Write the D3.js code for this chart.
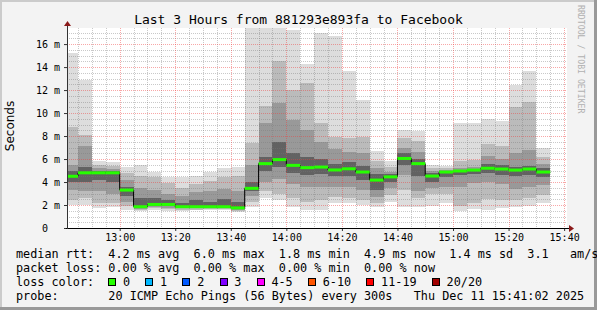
<!DOCTYPE html>
<html>
<head>
<meta charset="utf-8">
<script src="https://cdn.jsdelivr.net/npm/d3@7"></script>
<style>
  body { margin: 0; background: #fff; }
  svg text { font-family: "DejaVu Sans Mono", monospace; white-space: pre; }
</style>
</head>
<body>
<svg id="chart" width="597" height="310"></svg>
<script>
// column end times (5 min steps)
const stepEnds = ["12:45","12:50","12:55","13:00","13:05","13:10","13:15","13:20","13:25","13:30",
  "13:35","13:40","13:45","13:50","13:55","14:00","14:05","14:10","14:15","14:20",
  "14:25","14:30","14:35","14:40","14:45","14:50","14:55","15:00","15:05","15:10",
  "15:15","15:20","15:25","15:30","15:35"];

// median rtt (ms)
const medianMs = [4.5,4.8,4.8,4.8,3.3,1.85,2.05,2.05,1.85,1.85,1.85,1.85,1.75,3.45,5.6,5.95,5.45,5.25,5.3,5.05,
  5.15,4.87,4.17,4.45,6.05,5.6,4.52,4.87,4.96,5.04,5.2,5.13,5.04,5.13,4.87];

// smoke: slowest / fastest ping and inner pairs (ms)
const pingMax = [15.2,12.9,5.85,5.75,5.3,5.45,4.9,4.4,4.4,4.5,4.9,5.25,5.33,18,18,18,17.2,14.3,17.0,16.7,
  13.7,11.1,6.7,5.8,8.5,8.4,5.5,5.4,9.1,9.1,9.5,9.3,12.4,13.7,7.0];
const hi2 = [8.8,8.1,5.5,5.4,4.8,4.5,4.4,3.9,3.5,3.8,4.1,4.4,4.5,7.4,10.6,14.5,12.0,12.6,9.1,7.9,
  7.8,7.9,5.8,5.3,7.8,7.6,5.2,5.2,5.8,5.9,7.3,7.1,10.5,11.0,6.2];
const hi3 = [5.5,7.1,5.2,5.1,4.2,3.5,3.3,3.0,2.8,3.1,3.2,3.4,3.2,5.5,9.1,10.9,9.4,8.5,7.5,6.9,
  6.6,6.5,5.2,4.9,7.0,6.6,5.0,5.05,5.2,5.3,6.3,6.0,6.5,6.8,5.6];
const hi4 = [5.0,5.3,5.0,4.95,3.6,2.6,2.6,2.4,2.2,2.4,2.3,2.5,2.3,4.0,6.2,7.5,6.5,6.2,6.0,5.6,
  5.7,5.4,4.7,4.7,6.5,6.0,4.8,4.95,5.05,5.15,5.6,5.5,5.3,5.4,5.2];
const lo4 = [4.0,4.0,4.2,4.0,2.8,1.75,1.9,1.9,1.75,1.75,1.75,1.75,1.65,3.2,5.0,5.3,4.8,4.6,4.7,4.5,
  4.5,4.2,3.3,4.0,5.5,4.5,4.0,4.4,4.6,4.7,4.8,4.6,4.5,4.6,4.4];
const lo3 = [3.3,3.2,3.2,3.0,2.3,1.65,1.8,1.75,1.7,1.7,1.7,1.7,1.6,2.8,4.0,4.3,3.8,3.6,3.6,3.6,
  3.6,3.3,2.7,3.5,4.6,3.2,3.5,3.6,3.6,3.9,4.0,3.8,3.4,3.6,3.7];
const lo2 = [2.4,2.6,2.2,2.2,1.9,1.6,1.75,1.65,1.6,1.6,1.65,1.65,1.5,2.3,3.2,3.0,2.6,2.3,2.4,2.7,
  2.6,2.4,2.2,2.9,3.3,2.6,3.0,3.0,1.9,2.2,2.5,2.4,2.4,2.6,2.9];
const pingMin = [2.0,2.0,1.75,1.85,1.55,1.5,1.6,1.5,1.5,1.55,1.6,1.6,1.4,1.8,2.6,2.4,1.85,1.6,1.56,2.2,
  2.2,2.0,1.85,2.3,1.8,1.8,1.9,2.2,1.45,1.65,1.6,1.7,1.85,1.9,2.2];

const xLabels = ["13:00","13:20","13:40","14:00","14:20","14:40","15:00","15:20","15:40"];
const yLabels = [0,2,4,6,8,10,12,14,16];

const lossLabels = ["0","1","2","3","4-5","6-10","11-19","20/20"];
const lossColors = ["#26ff00","#00b8ff","#0059ff","#7e00ff","#ff00ff","#ff5500","#ff0000","#a10000"];

const statLines = [
  "median rtt:  4.2 ms avg  6.0 ms max  1.8 ms min  4.9 ms now  1.4 ms sd  3.1   am/s",
  "packet loss: 0.00 % avg  0.00 % max  0.00 % min  0.00 % now",
  "loss color:",
  "probe:       20 ICMP Echo Pings (56 Bytes) every 300s   Thu Dec 11 15:41:02 2025"
];

const PLOT = {left: 67, right: 567, top: 28, bottom: 228};
const CHAR_W = 7.1;

const svg = d3.select("#chart");
const parseT = d3.timeParse("%H:%M:%S");
const toTime = s => parseT(s.length === 5 ? s + ":00" : s);

const x = d3.scaleTime()
  .domain([toTime("12:41:02"), toTime("15:41:02")])
  .range([PLOT.left, PLOT.right]);
const y = d3.scaleLinear()
  .domain([0, 17.4])
  .range([PLOT.bottom, PLOT.top]);

// background + frame
svg.append("rect").attr("width", 597).attr("height", 310).attr("fill", "#f3f3f3");
svg.append("rect").attr("x", 0).attr("y", 0).attr("width", 597).attr("height", 2).attr("fill", "#cbcbcb");
svg.append("rect").attr("x", 0).attr("y", 0).attr("width", 2).attr("height", 310).attr("fill", "#cbcbcb");
svg.append("rect").attr("x", 0).attr("y", 307).attr("width", 597).attr("height", 3).attr("fill", "#999");
svg.append("rect").attr("x", 594).attr("y", 0).attr("width", 3).attr("height", 310).attr("fill", "#999");

// canvas
svg.append("rect")
  .attr("x", PLOT.left).attr("y", PLOT.top)
  .attr("width", PLOT.right - PLOT.left).attr("height", PLOT.bottom - PLOT.top)
  .attr("fill", "#fff");

svg.append("clipPath").attr("id", "plot-clip")
  .append("rect")
  .attr("x", PLOT.left).attr("y", PLOT.top)
  .attr("width", PLOT.right - PLOT.left).attr("height", PLOT.bottom - PLOT.top);

const steps = stepEnds.map((s, i) => {
  const end = toTime(s);
  return {start: d3.timeMinute.offset(end, -5), end: end, med: medianMs[i],
    layers: [[pingMin[i], pingMax[i]], [lo2[i], hi2[i]], [lo3[i], hi3[i]], [lo4[i], hi4[i]]]};
});

// smoke, outer pair first, darker pairs on top
const smokeColors = ["#dddddd", "#bbbbbb", "#999999", "#626262"];
const smoke = svg.append("g").attr("clip-path", "url(#plot-clip)");
smokeColors.forEach((col, li) => {
  smoke.append("g").selectAll("rect")
    .data(steps)
    .join("rect")
    .attr("x", d => x(d.start))
    .attr("width", d => x(d.end) - x(d.start))
    .attr("y", d => y(d.layers[li][1]))
    .attr("height", d => y(d.layers[li][0]) - y(d.layers[li][1]))
    .attr("fill", col)
    .attr("shape-rendering", "crispEdges");
});

// grid (drawn on top like rrdtool)
const grid = svg.append("g");
const minorT = x.ticks(d3.timeMinute.every(5));
const majorT = x.ticks(d3.timeMinute.every(20));
const isMajorT = t => t.getMinutes() % 20 === 0;
grid.selectAll(".vminor")
  .data(minorT.filter(t => !isMajorT(t)))
  .join("line")
  .attr("x1", d => Math.round(x(d)) + 0.5).attr("x2", d => Math.round(x(d)) + 0.5)
  .attr("y1", PLOT.top).attr("y2", PLOT.bottom)
  .attr("stroke", "rgba(120,120,120,0.4)").attr("stroke-dasharray", "1,1");
const minorY = y.ticks(35).filter(v => v > 0 && v % 2 !== 0);
grid.selectAll(".hminor")
  .data(minorY)
  .join("line")
  .attr("x1", PLOT.left).attr("x2", PLOT.right)
  .attr("y1", d => Math.round(y(d)) + 0.5).attr("y2", d => Math.round(y(d)) + 0.5)
  .attr("stroke", "rgba(120,120,120,0.4)").attr("stroke-dasharray", "1,1");
grid.selectAll(".vmajor")
  .data(majorT)
  .join("line")
  .attr("x1", d => Math.round(x(d)) + 0.5).attr("x2", d => Math.round(x(d)) + 0.5)
  .attr("y1", PLOT.top).attr("y2", PLOT.bottom)
  .attr("stroke", "rgba(240,60,60,0.45)").attr("stroke-dasharray", "1,1");
grid.selectAll(".hmajor")
  .data(yLabels.filter(v => v > 0))
  .join("line")
  .attr("x1", PLOT.left).attr("x2", PLOT.right)
  .attr("y1", d => Math.round(y(d)) + 0.5).attr("y2", d => Math.round(y(d)) + 0.5)
  .attr("stroke", "rgba(240,60,60,0.45)").attr("stroke-dasharray", "1,1");

// median line: black steps + green loss-colour segments
const stepPts = steps.map(d => ({t: d.start, v: d.med}));
stepPts.push({t: steps[steps.length - 1].end, v: steps[steps.length - 1].med});
const medLayer = svg.append("g").attr("clip-path", "url(#plot-clip)");
medLayer.append("path")
  .datum(stepPts)
  .attr("d", d3.line().x(d => x(d.t)).y(d => y(d.v)).curve(d3.curveStepAfter))
  .attr("fill", "none")
  .attr("stroke", "#000")
  .attr("stroke-width", 1);
medLayer.selectAll(".loss")
  .data(steps)
  .join("rect")
  .attr("x", d => x(d.start))
  .attr("width", d => x(d.end) - x(d.start))
  .attr("y", d => y(d.med) - 1.5)
  .attr("height", 3)
  .attr("fill", lossColors[0]);

// axes
const xAxis = svg.append("g")
  .attr("transform", `translate(0,${PLOT.bottom})`)
  .call(d3.axisBottom(x)
    .tickValues(xLabels.map(toTime))
    .tickFormat(d3.timeFormat("%H:%M"))
    .tickSizeInner(3).tickSizeOuter(0).tickPadding(3));
const yAxis = svg.append("g")
  .attr("transform", `translate(${PLOT.left},0)`)
  .call(d3.axisLeft(y)
    .tickValues(yLabels)
    .tickFormat(d => d === 0 ? "0  " : d + " m")
    .tickSizeInner(3).tickSizeOuter(0).tickPadding(4));
[xAxis, yAxis].forEach(a => {
  a.selectAll("text").attr("font-family", "DejaVu Sans Mono").attr("font-size", 10).attr("fill", "#000");
  a.selectAll("line").attr("stroke", "#333");
  a.select(".domain").remove();
});

svg.append("line")
  .attr("x1", PLOT.left - 1).attr("x2", PLOT.right + 3)
  .attr("y1", PLOT.bottom + 0.5).attr("y2", PLOT.bottom + 0.5)
  .attr("stroke", "#000");
svg.append("line")
  .attr("x1", PLOT.left + 0.5).attr("x2", PLOT.left + 0.5)
  .attr("y1", PLOT.bottom + 1).attr("y2", PLOT.top - 3)
  .attr("stroke", "#333");
svg.append("path")
  .attr("d", `M${PLOT.right + 2},${PLOT.bottom - 3}L${PLOT.right + 7},${PLOT.bottom + 0.5}L${PLOT.right + 2},${PLOT.bottom + 4}Z`)
  .attr("fill", "#8b1a1a");
svg.append("path")
  .attr("d", `M${PLOT.left - 3},${PLOT.top - 2}L${PLOT.left + 0.5},${PLOT.top - 7}L${PLOT.left + 4},${PLOT.top - 2}Z`)
  .attr("fill", "#8b1a1a");

// title + axis label + watermark
svg.append("text")
  .attr("x", 298.5).attr("y", 24)
  .attr("text-anchor", "middle")
  .attr("font-size", 13)
  .attr("fill", "#000")
  .text("Last 3 Hours from 881293e893fa to Facebook");

svg.append("text")
  .attr("transform", "translate(14,126) rotate(-90)")
  .attr("text-anchor", "middle")
  .style("font-family", "'DejaVu Sans', sans-serif")
  .attr("font-size", 12)
  .attr("fill", "#000")
  .text("Seconds");

svg.append("text")
  .attr("transform", "translate(578,5) rotate(90)")
  .attr("font-size", 8.2)
  .attr("fill", "#b0b0b0")
  .text("RRDTOOL / TOBI OETIKER");

// legend
const legend = svg.append("g").attr("font-size", 11.8).attr("fill", "#000");
legend.selectAll("text.stat")
  .data(statLines)
  .join("text")
  .attr("class", "stat")
  .attr("x", 16)
  .attr("y", (d, i) => 258 + i * 14)
  .text(d => d);

let bx = 16 + 13 * CHAR_W;
lossLabels.forEach((lab, i) => {
  legend.append("rect")
    .attr("x", Math.round(bx) + 0.5).attr("y", 278.5)
    .attr("width", 7).attr("height", 7)
    .attr("fill", lossColors[i])
    .attr("stroke", "#000");
  legend.append("text")
    .attr("x", bx + 14.7).attr("y", 286)
    .text(lab);
  bx += 14.7 + lab.length * CHAR_W + 15.3;
});
</script>
</body>
</html>
